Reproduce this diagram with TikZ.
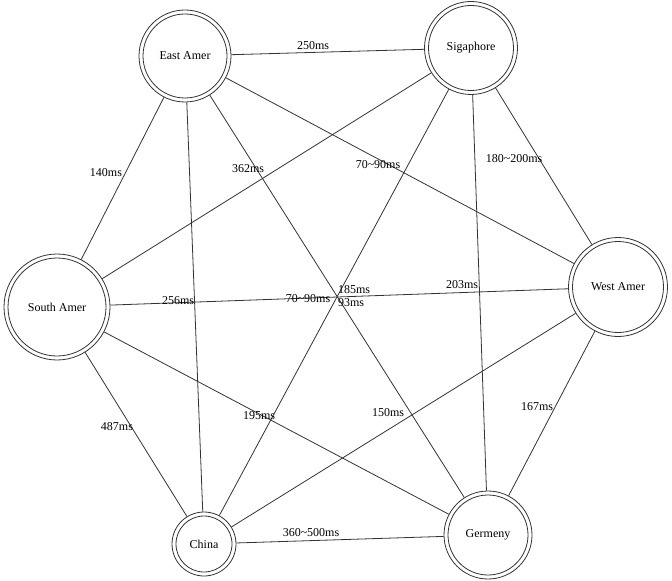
\documentclass[tikz,border=0pt]{standalone}
\usepackage{fontspec}
\setmainfont{Liberation Serif}
\begin{document}
\begin{tikzpicture}[x=1bp,y=-1bp,
  every node/.style={font=\fontsize{12bp}{14bp}\selectfont},
  vtx/.style={circle, draw=black!80, line width=0.8bp, inner sep=0pt,
    minimum size={2*#1*1bp},
    path picture={\draw[black!80, line width=0.8bp] (path picture bounding box.center) circle[radius={#1*1bp-4bp}];}},
  edge/.style={draw=black!80, line width=0.8bp},
  lbl/.style={inner sep=0pt}]
\useasboundingbox (0,0) rectangle (672,581);
% vertices
\node[vtx=46]   (ea) at (185,56)  {East Amer};
\node[vtx=46.5] (sg) at (471,48)  {Sigaphore};
\node[vtx=53]   (sa) at (57,307)  {South Amer};
\node[vtx=49.5] (wa) at (618,287) {West Amer};
\node[vtx=32]   (ch) at (204,544) {China};
\node[vtx=44]   (ge) at (488,535) {Germeny};
% edges
\draw[edge] (ea) -- (sg);
\draw[edge] (ea) -- (sa);
\draw[edge] (ea) -- (ch);
\draw[edge] (ea) -- (ge);
\draw[edge] (ea) -- (wa);
\draw[edge] (sg) -- (sa);
\draw[edge] (sg) -- (wa);
\draw[edge] (sg) -- (ge);
\draw[edge] (sg) -- (ch);
\draw[edge] (sa) -- (wa);
\draw[edge] (sa) -- (ge);
\draw[edge] (sa) -- (ch);
\draw[edge] (wa) -- (ge);
\draw[edge] (wa) -- (ch);
\draw[edge] (ch) -- (ge);
% labels
\node[lbl] (l1)  at (313,46)  {250ms};
\node[lbl] (l2)  at (106,173) {140ms};
\node[lbl] (l3)  at (178,301) {256ms};
\node[lbl] (l4)  at (351,303) {93ms};
\node[lbl] (l5)  at (378,165) {70\textasciitilde 90ms};
\node[lbl] (l6)  at (248,169) {362ms};
\node[lbl] (l7)  at (514,159) {180\textasciitilde 200ms};
\node[lbl] (l8)  at (462,285) {203ms};
\node[lbl] (l9)  at (354,290) {185ms};
\node[lbl] (l10) at (308,299) {70\textasciitilde 90ms};
\node[lbl] (l11) at (259,416) {195ms};
\node[lbl] (l12) at (117,427) {487ms};
\node[lbl] (l13) at (537,407) {167ms};
\node[lbl] (l14) at (388,413) {150ms};
\node[lbl] (l15) at (311,533) {360\textasciitilde 500ms};
\end{tikzpicture}
\end{document}
